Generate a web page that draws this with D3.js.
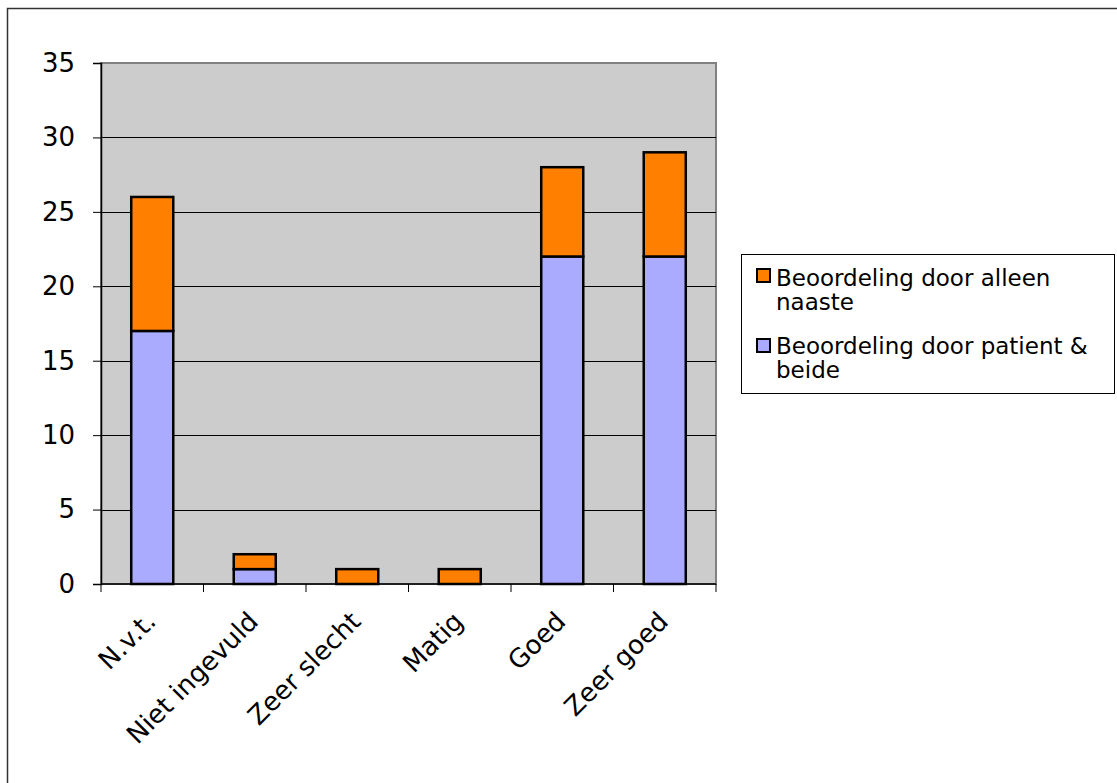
<!DOCTYPE html>
<html>
<head>
<meta charset="utf-8">
<script src="https://cdn.jsdelivr.net/npm/d3@7"></script>
<style>
  html, body { margin: 0; padding: 0; background: #fff; }
  svg { display: block; font-family: "DejaVu Sans", Verdana, sans-serif; }
</style>
</head>
<body>
<svg id="chart" width="1117" height="783"></svg>
<script>
// Beoordelingen per categorie
const categories = ["N.v.t.", "Niet ingevuld", "Zeer slecht", "Matig", "Goed", "Zeer goed"];
const patientBeide = [17, 1, 0, 0, 22, 22];
const alleenNaaste = [9, 1, 1, 1, 6, 7];
const seriesNames = ["Beoordeling door patient & beide", "Beoordeling door alleen naaste"];
const seriesColors = ["#aaaaff", "#ff7f00"];
const yTicks = [0, 5, 10, 15, 20, 25, 30, 35];

const FONT = "'DejaVu Sans', Verdana, sans-serif";
const svg = d3.select("#chart");

// outer frame
svg.append("rect")
  .attr("x", 7.5).attr("y", 8.5)
  .attr("width", 1200).attr("height", 900)
  .attr("fill", "#fff").attr("stroke", "#333").attr("stroke-width", 1.5);

const plot = { left: 101, right: 716, top: 63, bottom: 584 };

const x = d3.scaleBand().domain(categories)
  .range([plot.left, plot.right]).paddingInner(0.59).paddingOuter(0.295);
const xOuter = d3.scaleBand().domain(categories).range([plot.left, plot.right]);
const y = d3.scaleLinear().domain([0, 35]).range([plot.bottom, plot.top]);

// plot background
svg.append("rect")
  .attr("x", plot.left).attr("y", plot.top)
  .attr("width", plot.right - plot.left).attr("height", plot.bottom - plot.top)
  .attr("fill", "#cccccc").attr("stroke", "#808080").attr("stroke-width", 2);

// gridlines
svg.append("g").selectAll("line").data(yTicks.filter(t => t > 0 && t < 35)).join("line")
  .attr("x1", plot.left).attr("x2", plot.right)
  .attr("y1", d => Math.round(y(d)) + 0.5).attr("y2", d => Math.round(y(d)) + 0.5)
  .attr("stroke", "#000").attr("stroke-width", 1);

// stacked data
const rows = categories.map((c, i) => ({ cat: c, a: patientBeide[i], b: alleenNaaste[i] }));
const stack = d3.stack().keys(["a", "b"])(rows);

svg.append("g").selectAll("g").data(stack).join("g")
  .attr("fill", (d, i) => seriesColors[i])
  .selectAll("rect").data(d => d.filter(s => s[1] - s[0] > 0)).join("rect")
  .attr("x", d => x(d.data.cat))
  .attr("width", x.bandwidth())
  .attr("y", d => y(d[1]))
  .attr("height", d => y(d[0]) - y(d[1]))
  .attr("stroke", "#000").attr("stroke-width", 2.5);

// y axis
const yAxis = svg.append("g")
  .attr("transform", `translate(${plot.left},0)`)
  .call(d3.axisLeft(y).tickValues(yTicks).tickSize(8).tickPadding(18));
yAxis.select(".domain").attr("stroke", "#000").attr("stroke-width", 1.5);
yAxis.selectAll(".tick line").attr("stroke", "#000");
yAxis.selectAll(".tick text")
  .attr("font-size", 26).attr("fill", "#000")
  .attr("font-family", FONT);

// x axis: ticks on category boundaries
const xa = svg.append("g").attr("transform", `translate(0,${plot.bottom})`);
xa.append("line").attr("x1", plot.left).attr("x2", plot.right)
  .attr("stroke", "#000").attr("stroke-width", 1.5);
const bounds = categories.map(c => xOuter(c)).concat([plot.right]);
xa.selectAll("line.tk").data(bounds).join("line").attr("class", "tk")
  .attr("x1", d => d).attr("x2", d => d).attr("y1", 0).attr("y2", 8)
  .attr("stroke", "#000");
xa.selectAll("text").data(categories).join("text")
  .attr("transform", d => `translate(${xOuter(d) + xOuter.bandwidth() / 2 + 5},${39}) rotate(-45)`)
  .attr("text-anchor", "end")
  .attr("font-size", 26)
  .attr("font-family", FONT)
  .attr("fill", "#000")
  .text(d => d);

// legend
const lg = svg.append("g");
lg.append("rect").attr("x", 741.5).attr("y", 254.5).attr("width", 373).attr("height", 139)
  .attr("fill", "#fff").attr("stroke", "#000").attr("stroke-width", 1);
const legendItems = [
  { name: seriesNames[1], color: seriesColors[1], lines: ["Beoordeling door alleen", "naaste"], sy: 269, ty: 286 },
  { name: seriesNames[0], color: seriesColors[0], lines: ["Beoordeling door patient &", "beide"], sy: 339, ty: 354 }
];
legendItems.forEach(it => {
  lg.append("rect").attr("x", 757).attr("y", it.sy).attr("width", 13).attr("height", 13)
    .attr("fill", it.color).attr("stroke", "#000").attr("stroke-width", 2);
  const t = lg.append("text").attr("x", 776).attr("y", it.ty)
    .attr("font-size", 23).attr("font-family", FONT).attr("fill", "#000");
  it.lines.forEach((l, k) => t.append("tspan").attr("x", 776).attr("dy", k === 0 ? 0 : 23.5).text(l));
});
</script>
</body>
</html>
